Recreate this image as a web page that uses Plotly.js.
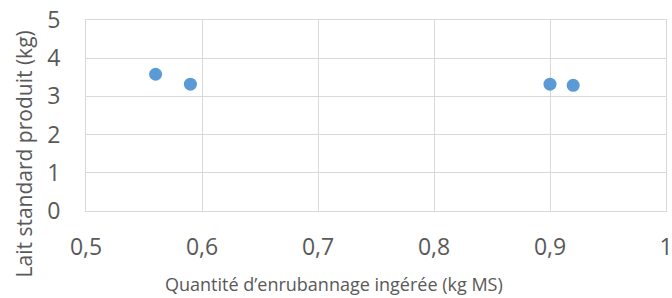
<!DOCTYPE html>
<html>
<head>
<meta charset="utf-8">
<script src="https://cdn.plot.ly/plotly-3.0.1.min.js"></script>
<style>html,body{margin:0;padding:0;background:#fff;}#chart{width:672px;height:298px;}</style>
</head>
<body>
<div id="chart"></div>
<script>
const xValues = [0.56, 0.59, 0.90, 0.92];
const yValues = [3.58, 3.32, 3.32, 3.29];
const xTickVals = [0.5, 0.6, 0.7, 0.8, 0.9, 1];
const xTickText = ["0,5", "0,6", "0,7", "0,8", "0,9", "1"];
const yTickVals = [0, 1, 2, 3, 4, 5];
const xTitle = "Quantité d’enrubannage ingérée (kg MS)";
const yTitle = "Lait standard produit (kg)";

const font = "'Open Sans', 'Noto Sans', sans-serif";
const gray = "#595959";

Plotly.newPlot("chart", [{
  x: xValues, y: yValues, type: "scatter", mode: "markers",
  marker: {color: "#5B9BD5", size: 13},
  hoverinfo: "none"
}], {
  width: 672, height: 298,
  margin: {l: 86, r: 6, t: 20, b: 87},
  paper_bgcolor: "#fff", plot_bgcolor: "#fff",
  showlegend: false,
  font: {family: font, color: gray},
  xaxis: {
    range: [0.5, 1], tickvals: xTickVals, ticktext: xTickText,
    showgrid: true, gridcolor: "#D9D9D9", gridwidth: 1,
    zeroline: false, showline: true, linecolor: "#D9D9D9", mirror: true,
    ticks: "outside", ticklen: 15, tickcolor: "rgba(0,0,0,0)",
    tickfont: {size: 23, color: gray, family: font},
    ticklabeloverflow: "allow",
    automargin: false
  },
  yaxis: {
    range: [0, 5], tickvals: yTickVals,
    showgrid: true, gridcolor: "#D9D9D9", gridwidth: 1,
    zeroline: false, showline: true, linecolor: "#D9D9D9", mirror: true,
    ticks: "outside", ticklen: 20, tickcolor: "rgba(0,0,0,0)",
    tickfont: {size: 23, color: gray, family: font},
    ticklabeloverflow: "allow",
    automargin: false
  },
  annotations: [
    {text: xTitle, xref: "paper", yref: "paper", x: 0.4284, y: -0.382,
     xanchor: "center", yanchor: "middle", showarrow: false,
     font: {size: 18, color: gray, family: font}},
    {text: yTitle, xref: "paper", yref: "paper", x: -0.107, y: 0.301,
     xanchor: "center", yanchor: "middle", showarrow: false, textangle: -90,
     font: {size: 21, color: gray, family: font}}
  ]
}, {staticPlot: true});
</script>
</body>
</html>
